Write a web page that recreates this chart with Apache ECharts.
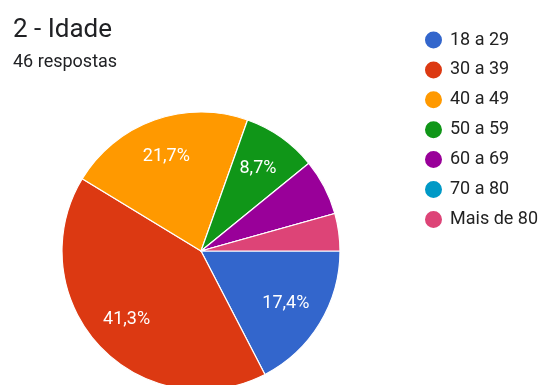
<!DOCTYPE html>
<html>
<head>
<meta charset="utf-8">
<script src="https://cdn.jsdelivr.net/npm/echarts@6/dist/echarts.min.js"></script>
<style>
  html, body { margin: 0; padding: 0; background: #fff; }
  #chart { width: 542px; height: 385px; }
</style>
</head>
<body>
<div id="chart"></div>
<script>
// Age groups of the 46 respondents
const categories = ['18 a 29', '30 a 39', '40 a 49', '50 a 59', '60 a 69', '70 a 80', 'Mais de 80'];
const counts = [8, 19, 10, 4, 3, 0, 2];
const colors = ['#3366cc', '#dc3912', '#ff9900', '#109618', '#990099', '#0099c6', '#dd4477'];
const totalResponses = 46;

const FONT = 'Roboto, "Noto Sans", sans-serif';

const pieData = categories.map((name, i) => ({
  name: name,
  value: counts[i],
  itemStyle: { color: colors[i] }
}));

// slices that are too thin get no percentage label
function pctLabel(value) {
  const pct = value / totalResponses * 100;
  if (pct < 7) return '';
  return pct.toFixed(1).replace('.', ',') + '%';
}

const chart = echarts.init(document.getElementById('chart'), null, { renderer: 'canvas' });

chart.setOption({
  animation: false,
  backgroundColor: '#fff',
  title: [
    {
      text: '2 - Idade',
      left: 8,
      top: 12,
      textStyle: { fontFamily: FONT, fontSize: 26, fontWeight: 'normal', color: '#202124' }
    },
    {
      text: totalResponses + ' respostas',
      left: 8,
      top: 48,
      textStyle: { fontFamily: FONT, fontSize: 18, fontWeight: 'normal', color: '#202124' }
    }
  ],
  legend: {
    orient: 'vertical',
    left: 423,
    top: 29.5,
    padding: 0,
    icon: 'circle',
    itemWidth: 19,
    itemHeight: 19,
    itemGap: 8.9,
    selectedMode: false,
    data: categories,
    textStyle: { fontFamily: FONT, fontSize: 18, color: '#222', padding: [0, 0, 0, 2] }
  },
  series: [
    {
      type: 'pie',
      center: [201, 251],
      radius: [0, 139],
      startAngle: 0,
      clockwise: true,
      silent: true,
      data: pieData,
      itemStyle: { borderColor: '#fff', borderWidth: 1.2 },
      label: { show: false },
      labelLine: { show: false }
    },
    {
      // transparent ring that only carries the percentage labels
      type: 'pie',
      center: [201, 251],
      radius: [56, 139],
      startAngle: 0,
      clockwise: true,
      silent: true,
      data: pieData.map(d => ({ name: d.name, value: d.value })),
      itemStyle: { color: 'rgba(0,0,0,0)' },
      label: {
        show: true,
        position: 'inside',
        formatter: p => pctLabel(p.value),
        fontFamily: FONT,
        fontSize: 18,
        color: '#fff',
        offset: [-1, 0]
      },
      labelLine: { show: false }
    }
  ]
});
</script>
</body>
</html>
